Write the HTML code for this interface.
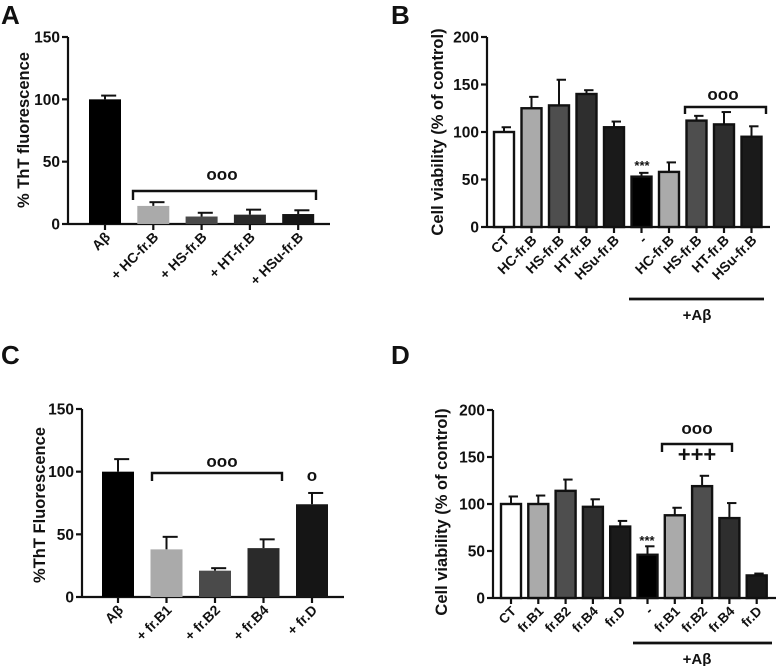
<!DOCTYPE html>
<html><head><meta charset="utf-8"><style>
body{margin:0;background:#fff}
svg text{font-family:"Liberation Sans",Arial,sans-serif;font-weight:bold;fill:#111}
</style></head><body>
<svg id="s" width="777" height="666" viewBox="0 0 777 666" xmlns="http://www.w3.org/2000/svg"></svg>
<script>
const aCats=["Aβ","+ HC-fr.B","+ HS-fr.B","+ HT-fr.B","+ HSu-fr.B"];
const aVals=[100,14.5,6,7.5,8];
const aErr=[3,3,3,4,3];
const aTicks=[0,50,100,150];
const bCats=["CT","HC-fr.B","HS-fr.B","HT-fr.B","HSu-fr.B","-","HC-fr.B","HS-fr.B","HT-fr.B","HSu-fr.B"];
const bVals=[100,125,128,140,105,53,58,112,108,95];
const bErr=[5,12,27,4,6,4,10,5,13,11];
const bTicks=[0,50,100,150,200];
const cCats=["Aβ","+ fr.B1","+ fr.B2","+ fr.B4","+ fr.D"];
const cVals=[100,38,21,39,74];
const cErr=[10,10,2,7,9];
const cTicks=[0,50,100,150];
const dCats=["CT","fr.B1","fr.B2","fr.B4","fr.D","-","fr.B1","fr.B2","fr.B4","fr.D"];
const dVals=[100,100,114,97,76,46,88,119,85,24];
const dErr=[8,9,12,8,6,9,8,11,16,2];
const dTicks=[0,50,100,150,200];

const S=document.getElementById('s');
const NS="http://www.w3.org/2000/svg";
function mk(t,a,txt){const e=document.createElementNS(NS,t);for(const k in a)e.setAttribute(k,a[k]);if(txt!=null)e.textContent=txt;S.appendChild(e);return e;}

function panel(o){
  const y=v=>o.y0-(v/o.max)*(o.y0-o.yTop);
  const x=i=>o.x1+i*o.step;
  mk('line',{x1:o.ax,y1:o.yTop,x2:o.ax,y2:o.y0,stroke:'#111','stroke-width':2.2});
  mk('line',{x1:o.ax,y1:o.y0,x2:o.axEnd,y2:o.y0,stroke:'#111','stroke-width':2.2});
  o.ticks.forEach(t=>{
    const l=mk('line',{x1:o.ax-6,y1:y(t),x2:o.ax,y2:y(t),stroke:'#111','stroke-width':2.2});
    
    const tx=mk('text',{x:o.ax-8,y:y(t)+5.5,'text-anchor':'end','font-size':15.5},String(t));
    
  });
  o.vals.forEach((v,i)=>{
    const cx=x(i),top=y(v),et=y(v+o.err[i]);
    const el=mk('line',{x1:cx,y1:top,x2:cx,y2:et,stroke:'#111','stroke-width':2});
    
    const ec=mk('line',{x1:cx-o.bw*0.12,y1:et,x2:cx+o.bw*0.35,y2:et,stroke:'#111','stroke-width':2});
    
    const a={x:cx-o.bw/2,y:top,width:o.bw,height:o.y0-top,fill:o.colors[i]};
    if(o.outline){a.stroke='#111';a['stroke-width']=2.4;}
    const r=mk('rect',a);
    
    const tk=mk('line',{x1:cx,y1:o.y0,x2:cx,y2:o.y0+6,stroke:'#111','stroke-width':2.2});
    
    const lx=cx+6,ly=o.y0+14;
    const t=mk('text',{x:lx,y:ly,'text-anchor':'end','font-size':o.fs,transform:`rotate(-45 ${lx} ${ly})`},o.cats[i]);
    
  });
  const yt=mk('text',{x:o.ytx,y:o.yty,'text-anchor':'middle','font-size':16.5,transform:`rotate(-90 ${o.ytx} ${o.yty})`},o.ytitle);
  
  const pl=mk('text',{x:o.lx,y:o.ly,'font-size':26},o.letter);
  
}
function bracket(id,x1,x2,yy,drop){
  const p=mk('path',{d:`M${x1} ${yy+drop} V${yy} H${x2} V${yy+drop}`,fill:'none',stroke:'#111','stroke-width':2.4});
  
}
function txt(id,x,y,s,fs){const t=mk('text',{x:x,y:y,'text-anchor':'middle','font-size':fs},s);}

const gA=['#000','#aaa','#4a4a4a','#2a2a2a','#151515'];
const gB=['#fff','#aaa','#4e4e4e','#2e2e2e','#1a1a1a','#000','#aaa','#4e4e4e','#2e2e2e','#1a1a1a'];

panel({id:'a',letter:'A',lx:1,ly:24,ax:68,axEnd:330,yTop:37,y0:224,max:150,x1:105,step:48.3,bw:32,
  vals:aVals,err:aErr,cats:aCats,ticks:aTicks,colors:gA,fs:14,ytitle:'% ThT fluorescence',ytx:29,yty:130});
bracket('a-significance-bracket',133,316,191,9);
txt('a-significance-marker',222,180,'ooo',17);

panel({id:'b',letter:'B',lx:391,ly:24,ax:487,axEnd:770,yTop:37,y0:227,max:200,x1:504,step:27.5,bw:20,outline:true,
  vals:bVals,err:bErr,cats:bCats,ticks:bTicks,colors:gB,fs:14,ytitle:'Cell viability (% of control)',ytx:443,yty:132});
bracket('b-significance-bracket',685,766,107,7);
txt('b-significance-marker',723,100,'ooo',17);
txt('b-stars',642,170,'***',13);
mk('line',{x1:629,y1:299,x2:764,y2:299,stroke:'#111','stroke-width':2.8});
txt('b-abeta-label',697,320,'+Aβ',15);

panel({id:'c',letter:'C',lx:1,ly:364,ax:82,axEnd:344,yTop:409,y0:597,max:150,x1:118,step:48.5,bw:32,
  vals:cVals,err:cErr,cats:cCats,ticks:cTicks,colors:gA,fs:14,ytitle:'%ThT Fluorescence',ytx:45,yty:505});
bracket('c-significance-bracket',152,282,473,8);
txt('c-significance-marker',222,467,'ooo',17);
txt('c-single-marker',312,481,'o',17);

panel({id:'d',letter:'D',lx:391,ly:364,ax:493,axEnd:776,yTop:410,y0:598,max:200,x1:511,step:27.3,bw:20,outline:true,
  vals:dVals,err:dErr,cats:dCats,ticks:dTicks,colors:gB,fs:13.5,ytitle:'Cell viability (% of control)',ytx:447,yty:512});
bracket('d-significance-bracket',662,732,444,8);
txt('d-significance-marker',697,434,'ooo',17);
txt('d-plus-marker',697,462,'+++',22);
txt('d-stars',647,545,'***',13);
mk('line',{x1:633,y1:643,x2:772,y2:643,stroke:'#111','stroke-width':2.8});
txt('d-abeta-label',697,664,'+Aβ',15);
</script>
</body></html>
